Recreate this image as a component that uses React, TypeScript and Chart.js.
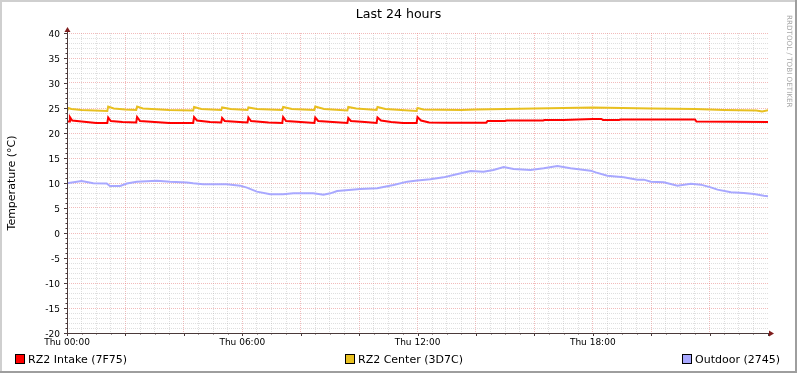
import { useEffect, useRef } from "react";
import { Chart, registerables } from "chart.js";

Chart.register(...registerables);

const TITLE = "Last 24 hours";
const Y_TITLE = "Temperature (°C)";
const WATERMARK = "RRDTOOL / TOBI OETIKER";

const X_LABEL_HOURS = [0, 6, 12, 18];
const X_TICK_LABELS = ["Thu 00:00", "Thu 06:00", "Thu 12:00", "Thu 18:00"];
const Y_LABEL_VALUES = [40, 35, 30, 25, 20, 15, 10, 5, 0, -5, -10, -15, -20];

const SERIES_NAMES = ["RZ2 Intake (7F75)", "RZ2 Center (3D7C)", "Outdoor (2745)"];
const SERIES_COLORS = ["#FF0000", "#E8C020", "#A8A8FF"];

const intakeHours = [0, 0.07, 0.1, 0.18, 0.5, 1.0, 1.38, 1.41, 1.5, 1.9, 2.37, 2.4, 2.5, 3.0, 3.5, 4.32, 4.35, 4.45, 4.9, 5.28, 5.31, 5.4, 5.9, 6.18, 6.21, 6.3, 6.9, 7.37, 7.4, 7.5, 8.0, 8.47, 8.5, 8.6, 9.1, 9.6, 9.63, 9.72, 10.2, 10.6, 10.63, 10.75, 11.1, 11.5, 11.97, 12.0, 12.12, 12.4, 13.0, 14.35, 14.4, 15.0, 15.05, 16.3, 16.35, 17.0, 17.5, 18.0, 18.3, 18.35, 18.9, 18.95, 21.5, 21.55, 24.03];
const intakeTemps = [22.3, 22.3, 23.2, 22.5, 22.3, 22.0, 22.0, 23.1, 22.4, 22.2, 22.1, 23.2, 22.4, 22.2, 22.0, 22.0, 23.2, 22.5, 22.2, 22.1, 23.0, 22.4, 22.2, 22.1, 23.1, 22.4, 22.1, 22.0, 23.2, 22.4, 22.2, 22.0, 23.1, 22.4, 22.2, 22.0, 23.0, 22.4, 22.2, 22.0, 23.1, 22.5, 22.2, 22.0, 22.0, 23.2, 22.5, 22.1, 22.05, 22.05, 22.4, 22.4, 22.5, 22.5, 22.6, 22.6, 22.7, 22.8, 22.8, 22.6, 22.6, 22.7, 22.7, 22.3, 22.2];

const centerHours = [0, 0.04, 0.15, 0.5, 1.38, 1.41, 1.6, 2.0, 2.37, 2.4, 2.6, 3.5, 4.32, 4.35, 4.6, 5.28, 5.31, 5.6, 6.18, 6.21, 6.5, 7.37, 7.4, 7.7, 8.47, 8.5, 8.8, 9.6, 9.63, 9.9, 10.6, 10.63, 10.9, 11.97, 12.0, 12.2, 13.5, 14.0, 15.0, 16.0, 17.0, 18.0, 19.0, 20.0, 21.5, 22.5, 23.6, 23.8, 24.03];
const centerTemps = [24.3, 25.0, 24.8, 24.6, 24.4, 25.3, 24.9, 24.7, 24.6, 25.3, 24.9, 24.6, 24.5, 25.2, 24.8, 24.6, 25.1, 24.8, 24.6, 25.1, 24.8, 24.6, 25.2, 24.8, 24.6, 25.3, 24.8, 24.5, 25.2, 24.9, 24.6, 25.2, 24.8, 24.4, 25.0, 24.7, 24.6, 24.7, 24.8, 24.9, 25.0, 25.1, 25.0, 24.9, 24.8, 24.6, 24.5, 24.3, 24.6];

const outdoorHours = [0, 0.5, 0.9, 1.36, 1.47, 1.82, 2.05, 2.39, 3.08, 3.53, 4.1, 4.32, 4.66, 5.47, 5.93, 6.16, 6.5, 6.96, 7.4, 7.75, 8.43, 8.78, 9.02, 9.25, 10.04, 10.62, 11.18, 11.65, 11.99, 12.44, 12.89, 13.23, 13.82, 14.26, 14.6, 14.95, 15.29, 15.87, 16.32, 16.79, 17.24, 17.93, 18.1, 18.5, 19.06, 19.53, 19.75, 19.99, 20.43, 20.9, 21.36, 21.7, 22.04, 22.27, 22.73, 23.17, 23.52, 23.86, 24.03];
const outdoorTemps = [9.93, 10.4, 9.95, 9.9, 9.4, 9.4, 9.9, 10.27, 10.47, 10.27, 10.1, 9.93, 9.73, 9.73, 9.47, 9.07, 8.27, 7.73, 7.73, 7.93, 7.93, 7.67, 7.93, 8.4, 8.8, 8.93, 9.6, 10.27, 10.5, 10.73, 11.13, 11.6, 12.4, 12.27, 12.6, 13.2, 12.8, 12.6, 12.93, 13.4, 12.93, 12.47, 12.13, 11.47, 11.13, 10.67, 10.67, 10.27, 10.13, 9.47, 9.87, 9.67, 9.13, 8.67, 8.13, 8.0, 7.8, 7.47, 7.33];

const FONT = "'DejaVu Sans', sans-serif";
const MAJOR_GRID = "rgba(230,120,120,0.5)";
const MINOR_GRID = "rgba(170,170,170,0.38)";
const AXIS_COLOR = "#4b3a3a";
const ARROW_COLOR = "#7f1d1d";

const toPoints = (hours: number[], temps: number[]) => hours.map((h, i) => ({ x: h, y: temps[i] }));

const decorPlugin = {
  id: "rrdDecor",
  beforeDraw(chart: any) {
    const { ctx, width, height } = chart;
    ctx.save();
    ctx.fillStyle = "#ffffff";
    ctx.fillRect(0, 0, width, height);
    ctx.restore();
  },
  afterDraw(chart: any) {
    const { ctx, chartArea: a, width, height } = chart;
    const xs = chart.scales.x;
    const ys = chart.scales.y;
    ctx.save();

    // ticks on axes
    ctx.strokeStyle = AXIS_COLOR;
    ctx.lineWidth = 1;
    ctx.beginPath();
    for (let i = 0; i <= 48; i++) {
      const h = i / 2;
      const px = Math.round(xs.getPixelForValue(h)) + 0.5;
      const len = i % 4 === 0 ? 3 : 1.5;
      ctx.moveTo(px, a.bottom);
      ctx.lineTo(px, a.bottom + len);
    }
    for (let v = -20; v <= 40; v++) {
      const py = Math.round(ys.getPixelForValue(v)) + 0.5;
      const len = v % 5 === 0 ? 3 : 1.5;
      ctx.moveTo(a.left, py);
      ctx.lineTo(a.left - len, py);
    }
    ctx.stroke();

    // axis lines
    ctx.beginPath();
    ctx.moveTo(a.left - 2, a.bottom + 0.5);
    ctx.lineTo(a.right + 2, a.bottom + 0.5);
    ctx.moveTo(a.left + 0.5, a.bottom + 3);
    ctx.lineTo(a.left + 0.5, a.top - 2);
    ctx.stroke();

    // arrows
    ctx.fillStyle = ARROW_COLOR;
    ctx.beginPath();
    ctx.moveTo(a.right + 1, a.bottom + 0.5 - 3);
    ctx.lineTo(a.right + 6, a.bottom + 0.5);
    ctx.lineTo(a.right + 1, a.bottom + 0.5 + 3);
    ctx.closePath();
    ctx.fill();
    ctx.beginPath();
    ctx.moveTo(a.left + 0.5 - 3, a.top - 1);
    ctx.lineTo(a.left + 0.5, a.top - 6);
    ctx.lineTo(a.left + 0.5 + 3, a.top - 1);
    ctx.closePath();
    ctx.fill();

    // tick labels
    ctx.fillStyle = "#000";
    ctx.font = `9px ${FONT}`;
    ctx.textBaseline = "alphabetic";
    ctx.textAlign = "center";
    X_LABEL_HOURS.forEach((h, i) => {
      ctx.fillText(X_TICK_LABELS[i], xs.getPixelForValue(h), a.bottom + 12);
    });
    ctx.textAlign = "right";
    Y_LABEL_VALUES.forEach((v) => {
      ctx.fillText(String(v), a.left - 7, ys.getPixelForValue(v) + 3.5);
    });

    // title
    ctx.font = `12.6px ${FONT}`;
    ctx.textAlign = "center";
    ctx.fillText(TITLE, width / 2, 18);

    // y title
    ctx.save();
    ctx.font = `11px ${FONT}`;
    ctx.translate(15, (a.top + a.bottom) / 2);
    ctx.rotate(-Math.PI / 2);
    ctx.textAlign = "center";
    ctx.fillText(Y_TITLE, 0, 0);
    ctx.restore();

    // watermark
    ctx.save();
    ctx.font = `7.2px ${FONT}`;
    ctx.fillStyle = "#a8a8a8";
    ctx.translate(787, 15);
    ctx.rotate(Math.PI / 2);
    ctx.textAlign = "left";
    ctx.fillText(WATERMARK, 0, 0);
    ctx.restore();

    // legend
    const boxX = [15, 345, 682];
    ctx.font = `11px ${FONT}`;
    ctx.textAlign = "left";
    SERIES_NAMES.forEach((name, i) => {
      ctx.fillStyle = SERIES_COLORS[i];
      ctx.fillRect(boxX[i], 354, 9, 9);
      ctx.strokeStyle = "#000";
      ctx.lineWidth = 1;
      ctx.strokeRect(boxX[i] + 0.5, 354.5, 9, 9);
      ctx.fillStyle = "#000";
      ctx.fillText(name, boxX[i] + 13, 363);
    });

    // 3D frame
    ctx.fillStyle = "#CFCFCF";
    ctx.fillRect(0, 0, width, 2);
    ctx.fillRect(0, 0, 2, height);
    ctx.fillStyle = "#9E9E9E";
    ctx.fillRect(0, height - 2, width, 2);
    ctx.fillRect(width - 2, 0, 2, height);

    ctx.restore();
  },
};

export default function App() {
  const ref = useRef<HTMLCanvasElement>(null);
  useEffect(() => {
    document.body.style.margin = "0";
    const canvas = ref.current!;
    const lineDs = (i: number, pts: { x: number; y: number }[]) => ({
      label: SERIES_NAMES[i],
      data: pts,
      borderColor: SERIES_COLORS[i],
      backgroundColor: SERIES_COLORS[i],
      borderWidth: 2,
      pointRadius: 0,
      tension: 0,
      fill: false,
    });
    const chart = new Chart(canvas, {
      type: "line",
      data: {
        datasets: [
          lineDs(0, toPoints(intakeHours, intakeTemps)),
          lineDs(1, toPoints(centerHours, centerTemps)),
          lineDs(2, toPoints(outdoorHours, outdoorTemps)),
        ],
      },
      options: {
        responsive: false,
        animation: false,
        devicePixelRatio: 1,
        layout: { padding: { top: 33, left: 0, right: 29, bottom: 20 } },
        plugins: { legend: { display: false }, title: { display: false }, tooltip: { enabled: false } },
        scales: {
          x: {
            type: "linear",
            min: 0,
            max: 24,
            afterFit: (s: any) => { s.height = 20; },
            ticks: { display: false, stepSize: 0.5, autoSkip: false, maxRotation: 0, minRotation: 0 },
            grid: {
              drawTicks: false,
              lineWidth: 1,
              color: (c: any) => {
                const v = c.tick.value;
                if (Math.abs(v - 24) < 1e-6) return "rgba(0,0,0,0)";
                return Math.round(v * 2) % 4 === 0 ? MAJOR_GRID : MINOR_GRID;
              },
            },
            border: { display: false, dash: [1, 1] },
          },
          y: {
            type: "linear",
            min: -20,
            max: 40,
            afterFit: (s: any) => { s.width = 67; },
            ticks: { display: false, stepSize: 1, autoSkip: false },
            grid: {
              drawTicks: false,
              lineWidth: 1,
              color: (c: any) => (Math.round(c.tick.value) % 5 === 0 ? MAJOR_GRID : MINOR_GRID),
            },
            border: { display: false, dash: [1, 1] },
          },
        },
      },
      plugins: [decorPlugin],
    });
    return () => chart.destroy();
  }, []);
  return <canvas ref={ref} width={797} height={373} style={{ display: "block", width: 797, height: 373 }} />;
}
